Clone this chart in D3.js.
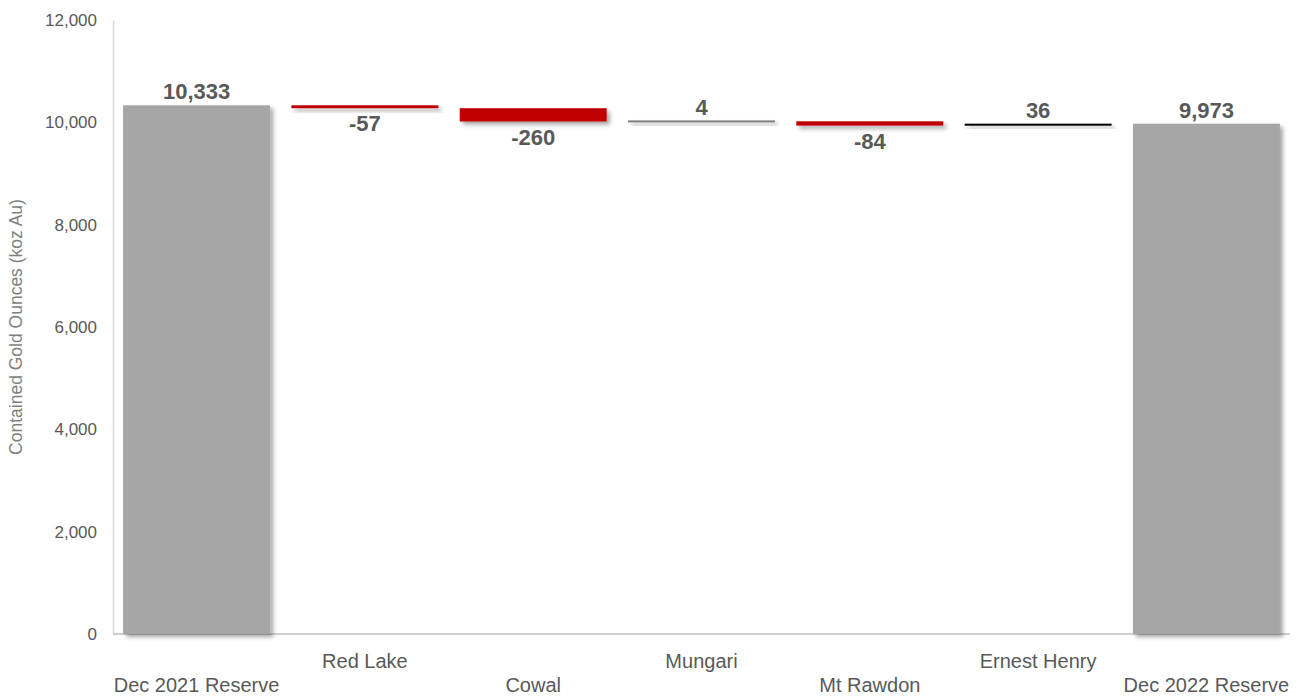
<!DOCTYPE html>
<html><head><meta charset="utf-8">
<script src="https://cdn.jsdelivr.net/npm/d3@7"></script>
<style>body{margin:0;background:#fff;}svg{display:block;font-family:"Liberation Sans",Arial,sans-serif;}</style>
</head><body>
<svg id="c" width="1307" height="696"></svg>
<script>
const categories = ["Dec 2021 Reserve","Red Lake","Cowal","Mungari","Mt Rawdon","Ernest Henry","Dec 2022 Reserve"];
const values = [10333,-57,-260,4,-84,36,9973];
const kinds = ["total","delta","delta","delta","delta","delta","total"];
const barColors = ["#a6a6a6","#c00000","#c00000","#7f7f7f","#c00000","#000000","#a6a6a6"];
const labels = ["10,333","-57","-260","4","-84","36","9,973"];
const yTicks = [0,2000,4000,6000,8000,10000,12000];

const svg = d3.select("#c");
const defs = svg.append("defs");
const f = defs.append("filter").attr("id","sh").attr("x","-10%").attr("y","-50%").attr("width","130%").attr("height","300%");
f.append("feDropShadow").attr("dx",3).attr("dy",3).attr("stdDeviation",2).attr("flood-color","#000").attr("flood-opacity",0.35);

const x = d3.scaleBand().domain(categories).range([113,1290]).paddingInner(0.127).paddingOuter(0.06);
const y = d3.scaleLinear().domain([0,12000]).range([634,20]);

let run = 0;
const bars = categories.map((c,i)=>{
  let lo, hi;
  if (kinds[i]==="total"){ lo=0; hi=values[i]; run=values[i]; }
  else { const s=run; run+=values[i]; lo=Math.min(s,run); hi=Math.max(s,run); }
  return {c, i, lo, hi, v:values[i]};
});

const yAxis = svg.append("g").attr("transform","translate(113,0)")
  .call(d3.axisLeft(y).tickValues(yTicks).tickSize(0).tickPadding(16).tickFormat(d3.format(",")));
yAxis.select(".domain").attr("stroke","#d9d9d9").attr("stroke-width",1.5);
yAxis.selectAll("text").attr("font-size",17).attr("fill","#595959").attr("font-family","Liberation Sans, Arial, sans-serif");

svg.append("line").attr("x1",113).attr("x2",1290).attr("y1",y(0)).attr("y2",y(0)).attr("stroke","#bfbfbf").attr("stroke-width",1.5);

svg.append("g").selectAll("rect").data(bars).join("rect")
  .attr("x",d=>x(d.c)).attr("width",x.bandwidth())
  .attr("y",d=>{const h=y(d.lo)-y(d.hi); return h<2? (y(d.lo)+y(d.hi))/2-1 : y(d.hi);})
  .attr("height",d=>Math.max(2,y(d.lo)-y(d.hi)))
  .attr("fill",(d,i)=>barColors[i])
  .attr("filter","url(#sh)");

svg.append("g").selectAll("text").data(bars).join("text")
  .attr("x",d=>x(d.c)+x.bandwidth()/2)
  .attr("y",d=> d.v>=0 ? y(d.hi)-6 : y(d.lo)+23)
  .attr("text-anchor","middle")
  .attr("font-size",22).attr("font-weight","bold").attr("fill","#595959")
  .text((d,i)=>labels[i]);

svg.append("g").selectAll("text").data(categories).join("text")
  .attr("x",d=>x(d)+x.bandwidth()/2)
  .attr("y",(d,i)=> i%2===0 ? 692 : 668)
  .attr("text-anchor","middle")
  .attr("font-size",20).attr("fill","#595959")
  .text(d=>d);

svg.append("text").attr("transform","translate(22,327) rotate(-90)")
  .attr("text-anchor","middle").attr("font-size",17.5).attr("fill","#7f7f7f")
  .text("Contained Gold Ounces (koz Au)");
</script>
</body></html>
